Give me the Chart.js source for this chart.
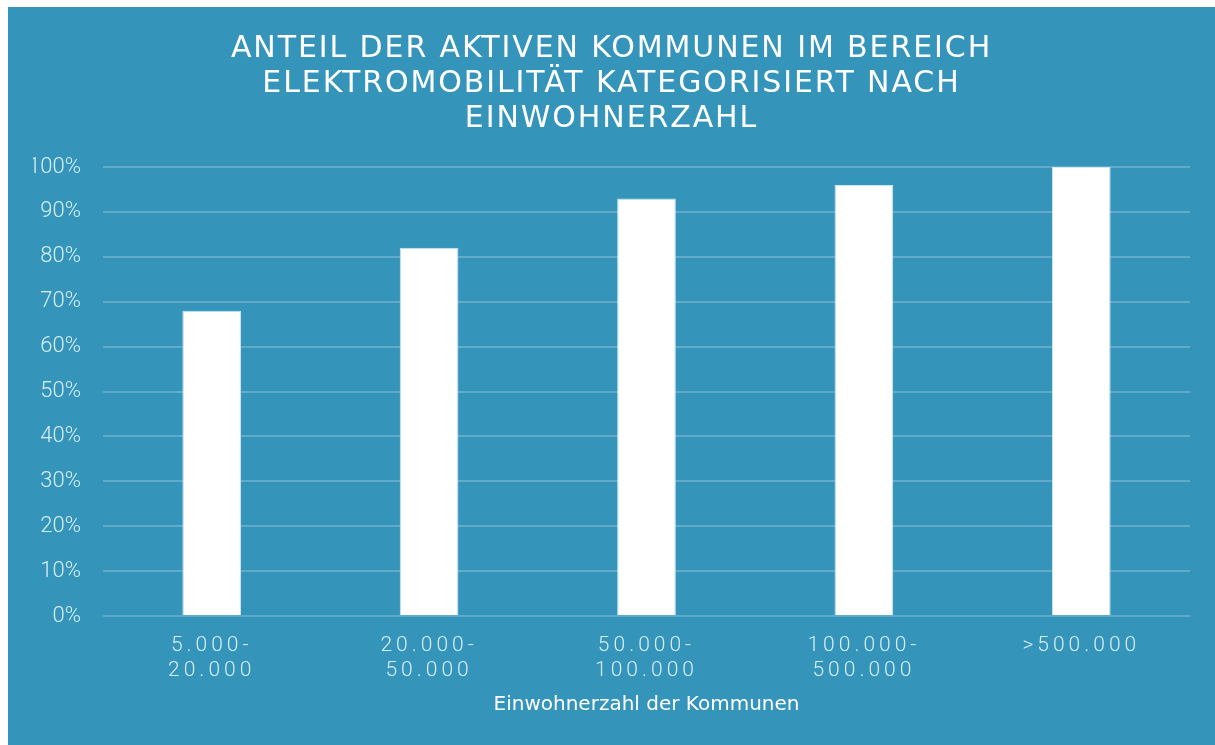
<!DOCTYPE html>
<html>
<head>
<meta charset="utf-8">
<script src="https://cdn.jsdelivr.net/npm/chart.js@4.4.1/dist/chart.umd.min.js"></script>
<style>
  html, body { margin: 0; padding: 0; background: #ffffff; width: 1215px; height: 745px; overflow: hidden; }
  #wrap { position: absolute; left: 8px; top: 7px; width: 1207px; height: 738px; background: #3494ba; }
</style>
</head>
<body>
<div id="wrap"><canvas id="c"></canvas></div>
<script>
const titleLines = ['ANTEIL DER AKTIVEN KOMMUNEN IM BEREICH', 'ELEKTROMOBILITÄT KATEGORISIERT NACH', 'EINWOHNERZAHL'];
const categories = [['5.000-', '20.000'], ['20.000-', '50.000'], ['50.000-', '100.000'], ['100.000-', '500.000'], ['>500.000']];
const shares = [68, 82, 93, 96, 100];
const yTicks = [0, 10, 20, 30, 40, 50, 60, 70, 80, 90, 100];
const xAxisTitle = 'Einwohnerzahl der Kommunen';

const spacingPlugin = {
  id: 'spacing',
  afterUpdate(chart) {
    const x = chart.scales.x;
    if (x && !x._sp) {
      const orig = x.drawLabels;
      x.drawLabels = function (a) {
        const c = this.ctx; c.save(); c.letterSpacing = '4px'; orig.call(this, a); c.restore();
      };
      x._sp = true;
    }
    const t = chart.titleBlock;
    if (t && !t._sp) {
      const origT = t.draw;
      t.draw = function () {
        const c = this.ctx; c.save(); c.letterSpacing = '1.9px'; origT.call(this); c.restore();
      };
      t._sp = true;
    }
  }
};

new Chart(document.getElementById('c'), {
  type: 'bar',
  data: {
    labels: categories,
    datasets: [{
      data: shares,
      backgroundColor: '#ffffff',
      borderColor: 'rgba(200,232,242,1)',
      borderWidth: 1,
      barPercentage: 0.27,
      categoryPercentage: 1.0
    }]
  },
  options: {
    responsive: true,
    maintainAspectRatio: false,
    animation: false,
    layout: { padding: { left: 25, right: 25, top: 0, bottom: 0 } },
    plugins: {
      legend: { display: false },
      tooltip: { enabled: false },
      title: {
        display: true,
        text: titleLines,
        color: '#ffffff',
        font: { family: 'DejaVu Sans', size: 30, weight: 'normal', lineHeight: 35 / 30 },
        padding: { top: 24.5, bottom: 30.5 }
      }
    },
    scales: {
      x: {
        afterFit(s) { s.height = 129; },
        grid: { display: false, drawTicks: false },
        border: { display: false },
        ticks: {
          color: 'rgba(214,238,246,1)',
          font: { family: 'Roboto', size: 21, weight: 300, lineHeight: 25 / 21 },
          padding: 17,
          maxRotation: 0,
          autoSkip: false
        },
        title: {
          display: true,
          text: xAxisTitle,
          color: '#ffffff',
          font: { family: 'DejaVu Sans', size: 20, weight: 'normal', lineHeight: 1.2 },
          padding: { top: 0, bottom: 28 }
        }
      },
      y: {
        min: 0,
        max: 100,
        afterBuildTicks(s) { s.ticks = yTicks.map(v => ({ value: v })); },
        afterFit(s) { s.width = 70; },
        grid: { color: 'rgba(255,255,255,0.22)', lineWidth: 2, drawTicks: false },
        border: { display: false },
        ticks: {
          color: 'rgba(214,238,246,1)',
          font: { family: 'Roboto', size: 22, weight: 300 },
          padding: 22,
          callback: v => v + '%'
        }
      }
    }
  },
  plugins: [spacingPlugin]
});
</script>
</body>
</html>
